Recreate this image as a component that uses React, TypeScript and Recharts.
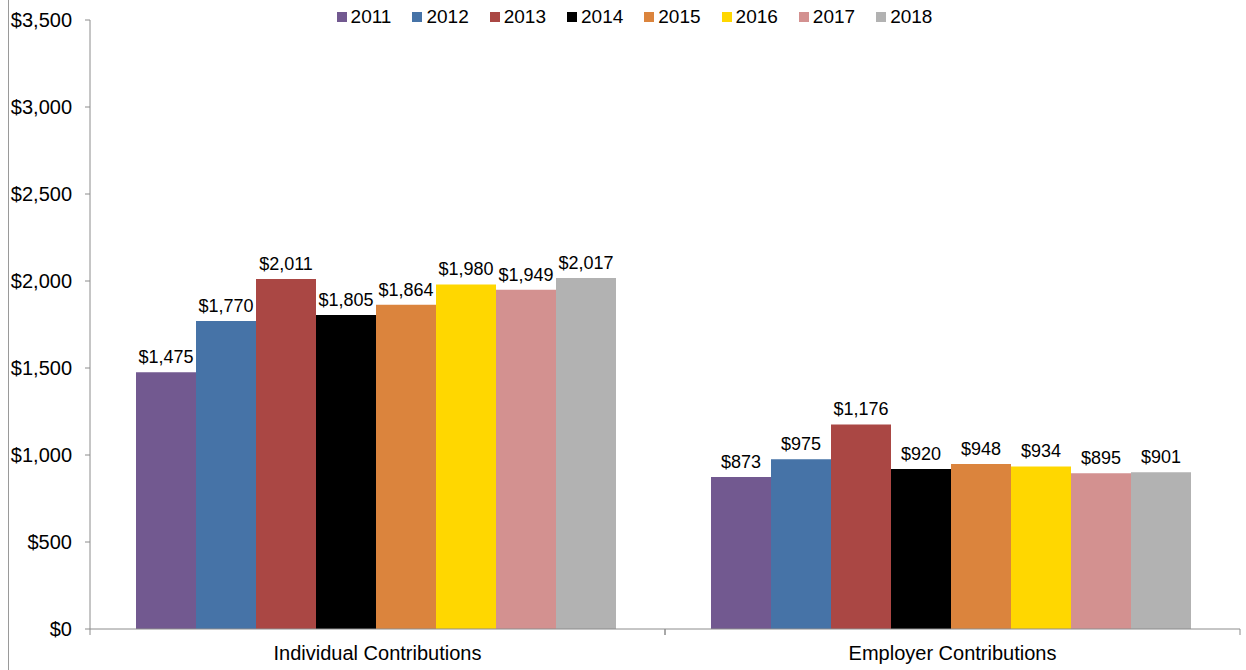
import React from "react";
import { BarChart, Bar, XAxis, YAxis, LabelList } from "recharts";

const categories = ["Individual Contributions", "Employer Contributions"];
const years = ["2011", "2012", "2013", "2014", "2015", "2016", "2017", "2018"];
const individual = [1475, 1770, 2011, 1805, 1864, 1980, 1949, 2017];
const employer = [873, 975, 1176, 920, 948, 934, 895, 901];
const colors = ["#725990", "#4673A7", "#AA4744", "#000000", "#DB843D", "#FFD700", "#D39190", "#B2B2B2"];
const yTicks = [0, 500, 1000, 1500, 2000, 2500, 3000, 3500];

const seriesByCategory = [individual, employer];
const data = categories.map((name, ci) => {
  const row: Record<string, string | number> = { name };
  years.forEach((y, yi) => {
    row[y] = seriesByCategory[ci][yi];
  });
  return row;
});

const W = 1246;
const H = 670;
const MARGIN = { top: 20, right: 6, left: 0, bottom: 6 };
const YAXIS_W = 90;
const FONT = "'Liberation Sans', Arial, sans-serif";
const AXIS_COLOR = "#8c8c8c";

const fmt = (v: number) => "$" + v.toLocaleString("en-US");

const plotW = W - MARGIN.left - MARGIN.right - YAXIS_W;
const band = plotW / categories.length;

const CategoryTick = (props: any) => {
  const { x, y, payload } = props;
  const axisY = y - 8;
  return (
    <g>
      <line x1={x - band / 2} x2={x - band / 2} y1={axisY} y2={axisY + 6} stroke={AXIS_COLOR} />
      <line x1={x + band / 2} x2={x + band / 2} y1={axisY} y2={axisY + 6} stroke={AXIS_COLOR} />
      <text x={x} y={axisY + 31} textAnchor="middle" fontSize={20} fill="#000" fontFamily={FONT}>
        {payload.value}
      </text>
    </g>
  );
};

export default function App() {
  return (
    <div style={{ position: "absolute", left: 0, top: 0, width: W, height: H, background: "#fff", fontFamily: FONT }}>
      <div style={{ position: "absolute", left: 8, top: 0, width: 1, height: H, background: "#9a9a9a" }} />
      <BarChart width={W} height={H} data={data} margin={MARGIN} barCategoryGap={46} barGap={0}>
        <XAxis
          dataKey="name"
          height={35}
          stroke={AXIS_COLOR}
          tickLine={false}
          tickSize={6}
          tickMargin={2}
          tick={<CategoryTick />}
          interval={0}
        />
        <YAxis
          width={YAXIS_W}
          domain={[0, 3500]}
          ticks={yTicks}
          interval={0}
          tickFormatter={fmt}
          stroke={AXIS_COLOR}
          tickSize={5}
          tickMargin={13}
          tick={{ fill: "#000", fontSize: 20, fontFamily: FONT }}
        />
        {years.map((y, i) => (
          <Bar key={y} dataKey={y} fill={colors[i]} isAnimationActive={false}>
            <LabelList
              dataKey={y}
              position="top"
              offset={9}
              formatter={(v: any) => fmt(Number(v))}
              style={{ fill: "#000", fontSize: 18, fontFamily: FONT }}
            />
          </Bar>
        ))}
      </BarChart>
      <div
        style={{
          position: "absolute",
          top: 7,
          left: 0,
          width: W,
          display: "flex",
          justifyContent: "center",
          gap: 21,
          paddingLeft: 23,
          boxSizing: "border-box",
        }}
      >
        {years.map((y, i) => (
          <div key={y} style={{ display: "flex", alignItems: "center", fontSize: 19, color: "#000", lineHeight: "20px" }}>
            <span style={{ display: "inline-block", width: 10, height: 10, background: colors[i], marginRight: 4 }} />
            <span>{y}</span>
          </div>
        ))}
      </div>
    </div>
  );
}
